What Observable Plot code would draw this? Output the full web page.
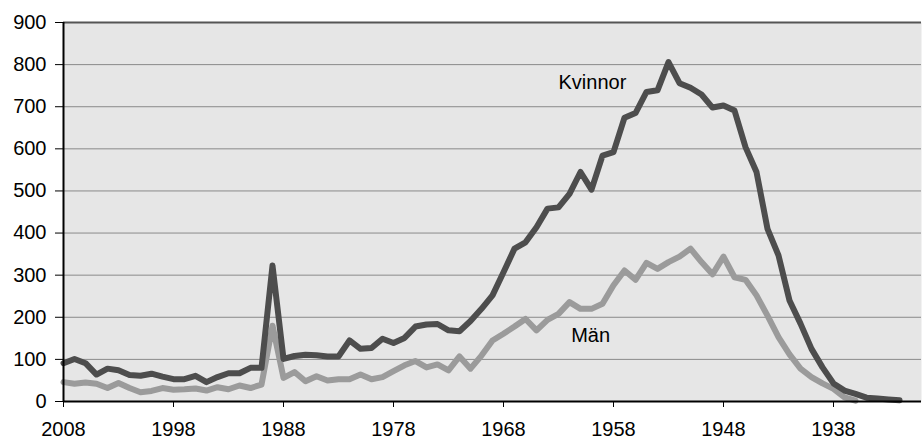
<!DOCTYPE html>
<html>
<head>
<meta charset="utf-8">
<script src="https://cdn.jsdelivr.net/npm/d3@7"></script>
<script src="https://cdn.jsdelivr.net/npm/@observablehq/plot@0.6"></script>
<style>
  html, body { margin: 0; padding: 0; background: #fff; }
  #chart svg { display: block; }
</style>
</head>
<body>
<div id="chart"></div>
<script>
const years = [2008,2007,2006,2005,2004,2003,2002,2001,2000,1999,
  1998,1997,1996,1995,1994,1993,1992,1991,1990,1989,
  1988,1987,1986,1985,1984,1983,1982,1981,1980,1979,
  1978,1977,1976,1975,1974,1973,1972,1971,1970,1969,
  1968,1967,1966,1965,1964,1963,1962,1961,1960,1959,
  1958,1957,1956,1955,1954,1953,1952,1951,1950,1949,
  1948,1947,1946,1945,1944,1943,1942,1941,1940,1939,
  1938,1937,1936,1935,1934,1933,1932];

const kvinnor = [91,101,91,64,78,74,63,61,66,59,
  53,53,61,46,58,67,67,80,80,323,
  101,108,111,110,107,107,145,125,127,149,
  139,151,178,183,184,169,167,191,220,252,
  307,363,378,414,458,461,493,545,503,584,
  592,674,685,735,739,806,756,745,729,698,
  703,691,604,545,410,347,240,185,125,81,
  43,26,18,9,7,5,3];

const man = [46,42,45,42,32,44,32,22,25,32,
  28,29,31,26,34,29,38,32,40,180,
  56,70,48,60,50,53,53,64,53,58,
  72,86,96,81,88,74,107,78,109,145,
  161,178,196,169,194,208,236,220,220,232,
  276,311,289,329,315,331,344,363,331,302,
  344,295,289,252,204,153,112,78,58,43,
  30,10,2,null,null,null,null];

const xTicks = [2008,1998,1988,1978,1968,1958,1948,1938];
const yTicks = [0,100,200,300,400,500,600,700,800,900];
const seriesLabels = [
  {name: "Kvinnor", year: 1963, value: 757},
  {name: "Män", year: 1961.85, value: 157}
];

const kData = years.map((y, i) => ({year: y, v: kvinnor[i]}));
const mData = years.map((y, i) => ({year: y, v: man[i]})).filter(d => d.v != null);

const chart = Plot.plot({
  width: 922,
  height: 441,
  marginLeft: 63,
  marginRight: 1,
  marginTop: 22,
  marginBottom: 40,
  style: {fontFamily: "Liberation Sans, Arial, sans-serif", fontSize: "20px", color: "#000", background: "#fff"},
  x: {domain: [2008, 1930], range: [63, 921]},
  y: {domain: [0, 900]},
  marks: [
    Plot.frame({fill: "#e6e6e6", stroke: null}),
    Plot.ruleY(yTicks.filter(d => d > 0 && d < 900), {y: d => d, stroke: "#8a8a8a", strokeWidth: 1}),
    Plot.ruleY([900], {stroke: "#555", strokeWidth: 2}),
    Plot.line(mData, {x: "year", y: "v", stroke: "#9b9b9b", strokeWidth: 6, strokeLinejoin: "round", strokeLinecap: "round"}),
    Plot.line(kData, {x: "year", y: "v", stroke: "#4d4d4d", strokeWidth: 6, strokeLinejoin: "round", strokeLinecap: "round"}),
    Plot.text(seriesLabels, {x: "year", y: "value", text: "name", textAnchor: "start", fontSize: 20, fill: "#000"}),
    Plot.ruleY([0], {stroke: "#000", strokeWidth: 2}),
    Plot.ruleX([2008], {stroke: "#000", strokeWidth: 2}),
    Plot.axisY({ticks: yTicks, tickSize: 8, tickPadding: 9, tickFormat: d => String(d), fontSize: 20, label: null, stroke: "#000"}),
    Plot.axisX({ticks: xTicks, tickSize: 6, tickPadding: 14, tickFormat: d => String(d), fontSize: 20, label: null, stroke: "#000"})
  ]
});
document.getElementById("chart").appendChild(chart);
</script>
</body>
</html>
